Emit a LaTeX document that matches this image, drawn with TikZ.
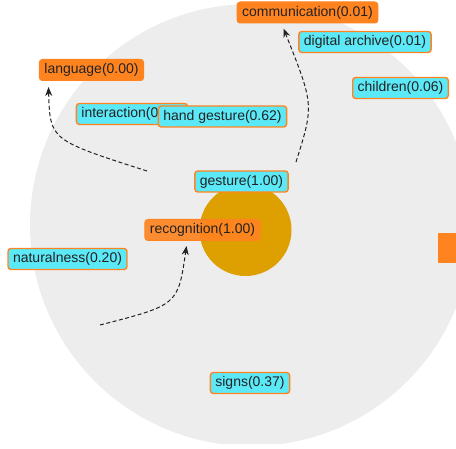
\documentclass[tikz,border=0pt]{standalone}
\usepackage{fontspec}
\setmainfont{Liberation Sans}
\usetikzlibrary{arrows.meta}
\definecolor{bgray}{HTML}{EDEDED}
\definecolor{gold}{HTML}{DDA000}
\definecolor{tagorange}{HTML}{FF8420}
\definecolor{tagcyan}{HTML}{5CE9F7}
\definecolor{ink}{HTML}{222222}
\begin{document}
\begin{tikzpicture}[x=1pt,y=-1pt,
  tag/.style={rounded corners=3pt, minimum height=21pt, inner xsep=5pt, inner ysep=0pt,
    font=\fontsize{14}{16}\selectfont, text=ink},
  hot/.style={tag, fill=tagorange, draw=tagorange, line width=1pt},
  cool/.style={tag, fill=tagcyan, draw=tagorange, line width=1.4pt},
  link/.style={draw=ink, line width=1pt, dash pattern=on 4pt off 2.5pt,
    -{Stealth[length=9pt,width=7pt]}},
]
\useasboundingbox (0,0) rectangle (456,449);
\begin{scope}
  \clip (0,0) rectangle (456,444);
  % background group disc and the central topic disc
  \fill[bgray] (251,225) circle[radius=221pt];
  \fill[gold] (245.5,230) circle[radius=46pt];

  % keyword tags
  \node[hot]  (communication) at (307.5,12.5) {communication(0.01)};
  \node[cool] (archive)       at (365,42)     {digital archive(0.01)};
  \node[hot]  (language)      at (91.5,70)    {language(0.00)};
  \node[cool] (children)      at (400.5,88)   {children(0.06)};
  \node[cool] (interaction)   at (132,114)    {interaction(0.00)};
  \node[cool] (handgesture)   at (222.5,116.5){hand gesture(0.62)};
  \node[cool] (gesture)       at (241.5,181.5){gesture(1.00)};
  \node[hot, fill opacity=0.92, text opacity=1] (recognition) at (202.5,230) {recognition(1.00)};
  \node[cool] (naturalness)   at (67.5,259)   {naturalness(0.20)};
  \node[cool] (signs)         at (250,383)    {signs(0.37)};
  \node[fill=tagorange, minimum width=22pt, minimum height=30pt, inner sep=0pt] (offtag) at (449,248) {};

  % loose ends of the links
  \coordinate (fromleft)  at (147,171);
  \coordinate (fromtop)   at (296,162);
  \coordinate (frombelow) at (100,325);

  % dashed links
  \draw[link] (fromleft) .. controls (50,140) .. ([shift={(-43,6)}]language.south);
  \draw[link] (fromtop) .. controls (314,105) .. ([shift={(-24,5)}]communication.south);
  \draw[link] (frombelow) .. controls (178,305) .. ([shift={(-16,5)}]recognition.south);
\end{scope}
\end{tikzpicture}
\end{document}
